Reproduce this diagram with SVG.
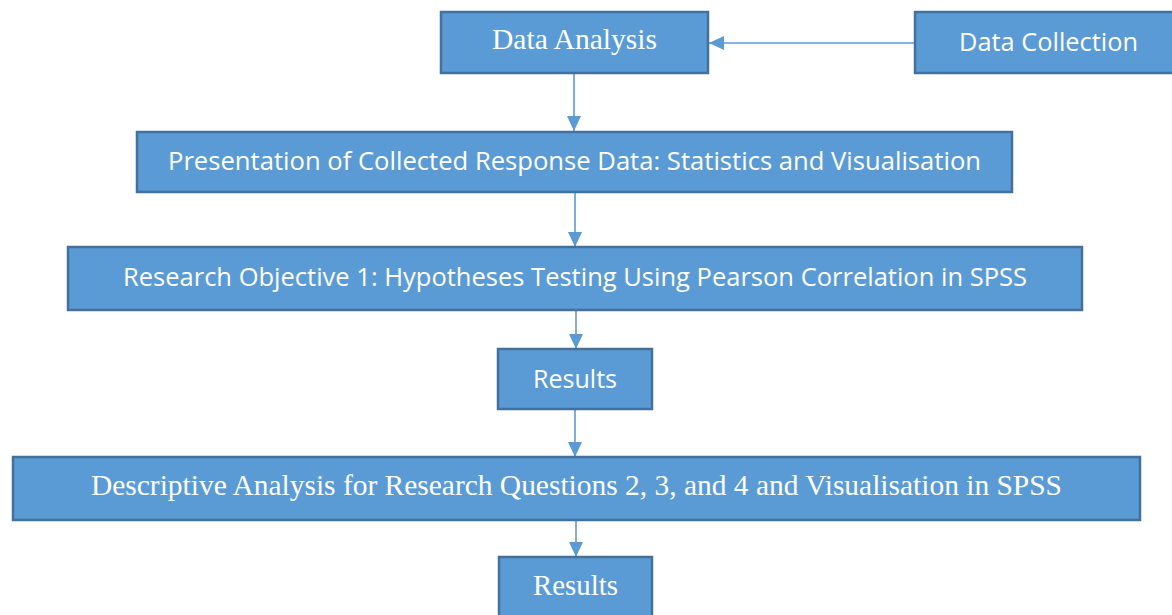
<svg xmlns="http://www.w3.org/2000/svg" width="1172" height="615" viewBox="0 0 1172 615">
<style>
.box{fill:#5B9BD5;stroke:#41719C;stroke-width:2.5}
.sans{font-family:"Open Sans","Liberation Sans",sans-serif;font-size:25px;fill:#ffffff;text-anchor:middle}
.serif{font-family:"Liberation Serif","Times New Roman",serif;font-size:29px;fill:#ffffff;text-anchor:middle}
.conn{stroke:#5B9BD5;stroke-width:1.6;fill:none;marker-end:url(#arr)}
</style>
<defs>
<marker id="arr" markerUnits="userSpaceOnUse" markerWidth="16" markerHeight="16" viewBox="0 0 16 16" refX="15" refY="8" orient="auto">
<path d="M0,1 L15,8 L0,15 Z" fill="#5B9BD5"/>
</marker>
</defs>
<rect width="1172" height="615" fill="#ffffff"/>
<g id="connectors">
<line class="conn" x1="915" y1="43" x2="709" y2="43"/>
<line class="conn" x1="574" y1="73" x2="574" y2="131"/>
<line class="conn" x1="575" y1="192" x2="575" y2="247"/>
<line class="conn" x1="576" y1="311" x2="576" y2="349"/>
<line class="conn" x1="575" y1="410" x2="575" y2="457"/>
<line class="conn" x1="576" y1="521" x2="576" y2="557"/>
</g>
<g id="data-analysis">
<rect class="box" x="441" y="12" width="267" height="61"/>
<text class="serif" x="574.5" y="49" textLength="165" lengthAdjust="spacingAndGlyphs">Data Analysis</text>
</g>
<g id="data-collection">
<rect class="box" x="915" y="12" width="267" height="61"/>
<text class="sans" x="1048.5" y="51" textLength="179" lengthAdjust="spacingAndGlyphs">Data Collection</text>
</g>
<g id="presentation">
<rect class="box" x="137" y="132" width="875" height="60"/>
<text class="sans" x="574.5" y="170" textLength="813" lengthAdjust="spacingAndGlyphs">Presentation of Collected Response Data: Statistics and Visualisation</text>
</g>
<g id="research-objective">
<rect class="box" x="68" y="247" width="1014" height="63"/>
<text class="sans" x="575" y="286" textLength="904" lengthAdjust="spacingAndGlyphs">Research Objective 1: Hypotheses Testing Using Pearson Correlation in SPSS</text>
</g>
<g id="results-1">
<rect class="box" x="498" y="349" width="154" height="60"/>
<text class="sans" x="575" y="388" textLength="84" lengthAdjust="spacingAndGlyphs">Results</text>
</g>
<g id="descriptive">
<rect class="box" x="13" y="457" width="1127" height="63"/>
<text class="serif" x="576.5" y="495" textLength="971" lengthAdjust="spacingAndGlyphs">Descriptive Analysis for Research Questions 2, 3, and 4 and Visualisation in SPSS</text>
</g>
<g id="results-2">
<rect class="box" x="499" y="557" width="153" height="70"/>
<text class="serif" x="575.5" y="595" textLength="85" lengthAdjust="spacingAndGlyphs">Results</text>
</g>
</svg>
